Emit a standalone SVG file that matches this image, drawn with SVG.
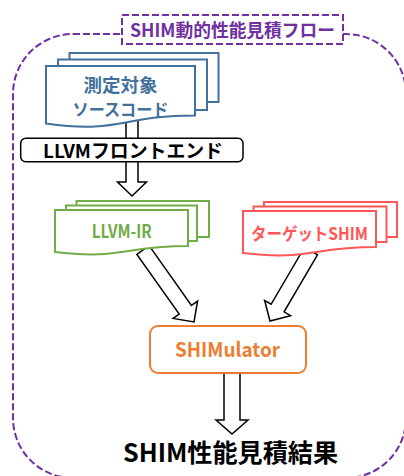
<svg xmlns="http://www.w3.org/2000/svg" width="404" height="476" viewBox="0 0 404 476">
<style>
.t{font-family:"Noto Sans CJK JP","Noto Sans",sans-serif;font-weight:bold;text-anchor:middle}
.arrow{fill:#fff;stroke:#000;stroke-width:1.5;stroke-linejoin:miter}
.pg{fill:#fff;stroke-width:2}
.blue{stroke:#41719C}
.green{stroke:#70AD47}
.red{stroke:#FF5757}
.dash{fill:none;stroke:#7030A0;stroke-width:2;stroke-dasharray:7 3}
</style>
<rect class="dash" x="13" y="34" width="393" height="444" rx="60" ry="60"/>
<g id="title">
<rect x="122" y="15" width="221" height="29" fill="#fff" stroke="#7030A0" stroke-width="2" stroke-dasharray="7 3"/>
<text class="t" x="232.5" y="36.5" font-size="18" fill="#7030A0" textLength="205" lengthAdjust="spacingAndGlyphs">SHIM動的性能見積フロー</text>
</g>
<g id="connectors">
<polygon class="arrow" points="126,120 138,120 138,182 146.5,182 132,196 117.5,182 126,182"/>
<polygon class="arrow" points="149.12,245.66 191.45,305.43 197.57,301.09 194,322 173.09,318.43 179.21,314.09 136.88,254.34"/>
<polygon class="arrow" points="317.47,254.79 284.05,311.85 290.52,315.64 270,321 264.64,300.48 271.11,304.27 304.53,247.21"/>
<polygon class="arrow" points="224,370 240,370 240,420 248,420 232,434 216,420 224,420"/>
</g>
<g id="source">
<rect class="pg blue" x="69.5" y="53" width="149" height="49"/>
<rect class="pg blue" x="58" y="59.5" width="149" height="50.5"/>
<path class="pg blue" d="M46,66 H195 V115.4 C120.5,115.4 120.5,134.2 46,123.5 Z"/>
<text class="t" x="120.5" y="91.5" font-size="18" fill="#41719C" textLength="74" lengthAdjust="spacingAndGlyphs">測定対象</text>
<text class="t" x="120.5" y="115.5" font-size="17" fill="#41719C" textLength="96" lengthAdjust="spacingAndGlyphs">ソースコード</text>
</g>
<g id="frontend">
<rect x="20.7" y="138.3" width="222.3" height="23.4" rx="5" fill="#fff" stroke="#000" stroke-width="1.5"/>
<text class="t" x="133" y="157.5" font-size="19" fill="#000" textLength="180" lengthAdjust="spacingAndGlyphs">LLVMフロントエンド</text>
</g>
<g id="llvmir">
<rect class="pg green" x="76.5" y="201" width="132.5" height="36"/>
<rect class="pg green" x="66" y="205.5" width="131" height="35.5"/>
<path class="pg green" d="M55,210 H188 V246.1 C121.5,246.1 121.5,259.8 55,252 Z"/>
<text class="t" x="121.7" y="238" font-size="18" fill="#70AD47" textLength="60" lengthAdjust="spacingAndGlyphs">LLVM-IR</text>
</g>
<g id="target">
<rect class="pg red" x="264" y="202" width="133" height="35"/>
<rect class="pg red" x="253.5" y="206.5" width="133" height="35.5"/>
<path class="pg red" d="M243,211 H376 V247.1 C309.5,247.1 309.5,260.8 243,253 Z"/>
<text class="t" x="309.5" y="239.5" font-size="17" fill="#FF5757" textLength="117" lengthAdjust="spacingAndGlyphs">ターゲットSHIM</text>
</g>
<g id="shimulator">
<rect x="150" y="326" width="156" height="47" rx="8" fill="#fff" stroke="#ED7D31" stroke-width="2"/>
<text class="t" x="227.5" y="357" font-size="20" fill="#ED7D31" textLength="105" lengthAdjust="spacingAndGlyphs">SHIMulator</text>
</g>
<g id="result">
<text class="t" x="230.5" y="461.5" font-size="25" fill="#000" textLength="215" lengthAdjust="spacingAndGlyphs">SHIM性能見積結果</text>
</g>
</svg>
